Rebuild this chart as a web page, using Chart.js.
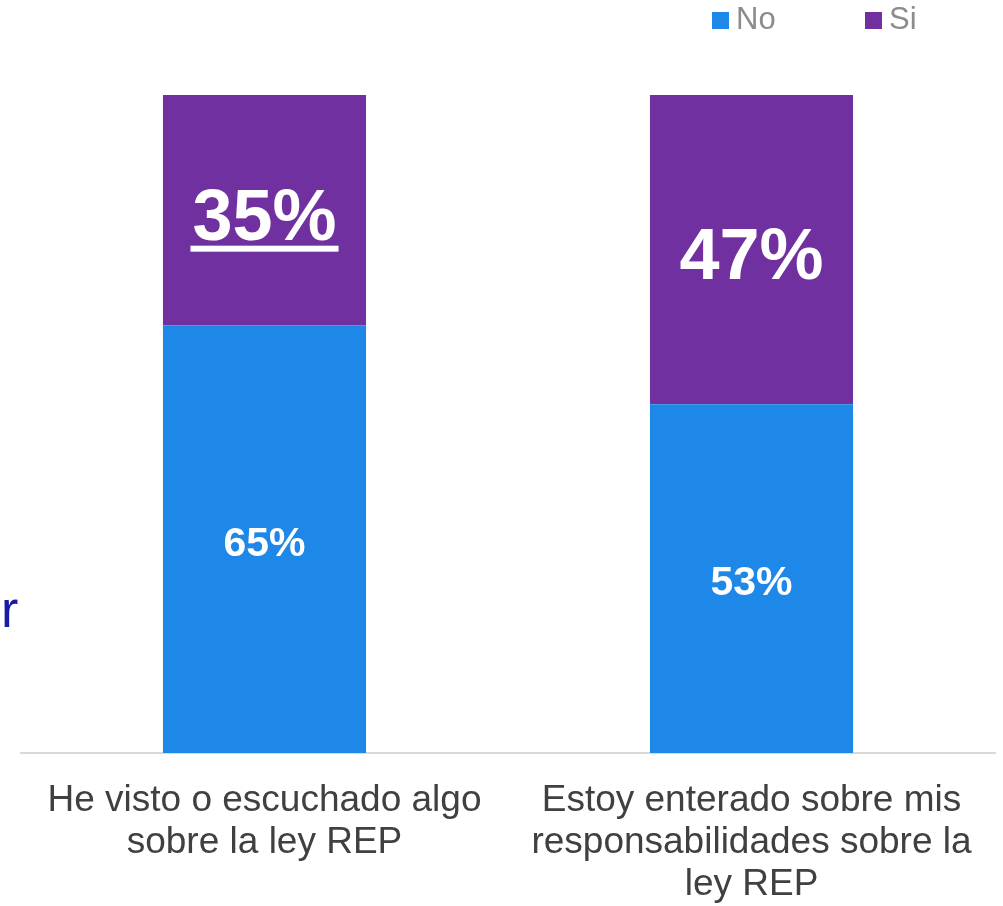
<!DOCTYPE html>
<html>
<head>
<meta charset="utf-8">
<script src="https://cdn.jsdelivr.net/npm/chart.js@4"></script>
<style>
html, body { margin: 0; padding: 0; background: #fff; }
#wrap { position: relative; width: 1003px; height: 906px; }
</style>
</head>
<body>
<div id="wrap"><canvas id="myChart" width="1003" height="906"></canvas></div>
<script>
// data
var categories = [
  ['He visto o escuchado algo', 'sobre la ley REP'],
  ['Estoy enterado sobre mis', 'responsabilidades sobre la', 'ley REP']
];
var seriesNames = ['No', 'Si'];
var noValues = [65, 53];
var siValues = [35, 47];
var colors = ['#1E88E8', '#7030A0'];

var fontFam = '"Liberation Sans", Arial, sans-serif';

// labels inside the bars + legend + the stray "r"
var labelsPlugin = {
  id: 'barLabels',
  afterDatasetsDraw: function(chart) {
    var ctx = chart.ctx;
    ctx.save();
    ctx.fillStyle = '#fff';
    ctx.textAlign = 'center';
    ctx.textBaseline = 'alphabetic';
    chart.data.datasets.forEach(function(ds, di) {
      var meta = chart.getDatasetMeta(di);
      meta.data.forEach(function(bar, i) {
        var big = di == 1;
        var size = big ? 72 : 41;
        ctx.font = 'bold ' + size + 'px ' + fontFam;
        var base = (bar.y + bar.base) / 2 + size * 0.41;
        var txt = ds.data[i] + '%';
        ctx.fillText(txt, bar.x, base);
        if (big && i == 0) {
          var w = ctx.measureText(txt).width + 4;
          ctx.fillRect(bar.x - w / 2, base + 6, w, 6);
        }
      });
    });
    ctx.restore();
  },
  afterDraw: function(chart) {
    var ctx = chart.ctx;
    ctx.save();
    // legend
    ctx.font = '31px ' + fontFam;
    ctx.textBaseline = 'middle';
    ctx.textAlign = 'left';
    var xs = [712, 865];
    seriesNames.forEach(function(name, i) {
      ctx.fillStyle = colors[i];
      ctx.fillRect(xs[i], 12, 17, 17);
      ctx.fillStyle = '#8C8C8C';
      ctx.fillText(name, xs[i] + 24, 20);
    });
    // stray letter at left edge
    ctx.fillStyle = '#1A1AA8';
    ctx.font = '52px ' + fontFam;
    ctx.textBaseline = 'alphabetic';
    ctx.fillText('r', 1, 627);
    ctx.restore();
  }
};

var ctx = document.getElementById('myChart');
var chartInstance = new Chart(ctx, {
  type: 'bar',
  data: {
    labels: categories,
    datasets: [{
      label: seriesNames[0],
      data: noValues,
      backgroundColor: colors[0]
    }, {
      label: seriesNames[1],
      data: siValues,
      backgroundColor: colors[1]
    }]
  },
  options: {
    responsive: false,
    animation: false,
    layout: { padding: { left: 21, right: 8, top: 95, bottom: 0 } },
    datasets: { bar: { categoryPercentage: 0.417, barPercentage: 1 } },
    plugins: {
      legend: { display: false },
      tooltip: { enabled: false }
    },
    scales: {
      x: {
        stacked: true,
        grid: { display: false, drawTicks: false },
        border: { display: true, color: '#D9D9D9', width: 2 },
        ticks: {
          color: '#404040',
          padding: 27,
          font: { family: fontFam, size: 37, lineHeight: '42px' }
        },
        afterFit: function(scale) { scale.height = 153; }
      },
      y: {
        stacked: true,
        display: false,
        min: 0,
        max: 100
      }
    }
  },
  plugins: [labelsPlugin]
});
</script>
</body>
</html>
